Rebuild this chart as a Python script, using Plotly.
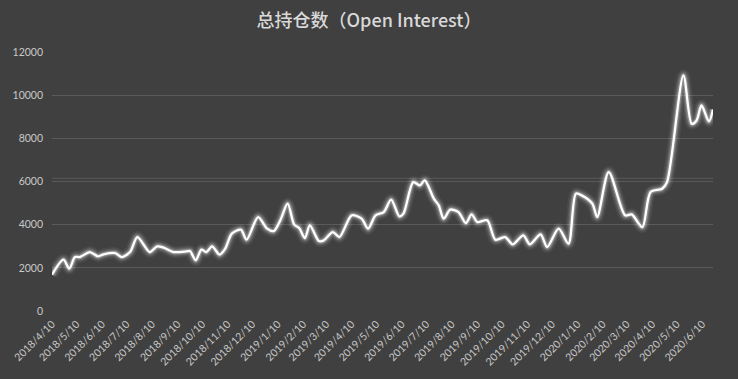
import plotly.graph_objects as go

dates = [
    "2018-04-10", "2018-04-24", "2018-05-01", "2018-05-08", "2018-05-14", "2018-05-26",
    "2018-06-05", "2018-06-12", "2018-06-26", "2018-07-04", "2018-07-14", "2018-07-23",
    "2018-08-07", "2018-08-16", "2018-08-24", "2018-09-05", "2018-09-21", "2018-09-25",
    "2018-10-02", "2018-10-09", "2018-10-15", "2018-10-22", "2018-10-31", "2018-11-07",
    "2018-11-15", "2018-11-26", "2018-12-03", "2018-12-17", "2018-12-28", "2019-01-05",
    "2019-01-13", "2019-01-22", "2019-01-30", "2019-02-05", "2019-02-12", "2019-02-18",
    "2019-03-01", "2019-03-07", "2019-03-18", "2019-03-26", "2019-04-10", "2019-04-22",
    "2019-04-30", "2019-05-09", "2019-05-19", "2019-05-28", "2019-06-07", "2019-06-12",
    "2019-06-24", "2019-07-02", "2019-07-08", "2019-07-19", "2019-07-25", "2019-07-31",
    "2019-08-08", "2019-08-18", "2019-08-27", "2019-09-03", "2019-09-10", "2019-09-22",
    "2019-10-02", "2019-10-14", "2019-10-23", "2019-11-05", "2019-11-13", "2019-11-26",
    "2019-12-04", "2019-12-18", "2019-12-30", "2020-01-08", "2020-01-15", "2020-01-28",
    "2020-02-03", "2020-02-17", "2020-03-08", "2020-03-16", "2020-03-29", "2020-04-08",
    "2020-04-22", "2020-04-28", "2020-05-18", "2020-05-28", "2020-06-03", "2020-06-09",
    "2020-06-18", "2020-06-23",
]
open_interest = [
    1685, 2380, 1963, 2500, 2500, 2732,
    2532, 2625, 2685, 2500, 2732, 3426,
    2732, 2996, 2935, 2732, 2764, 2780,
    2347, 2843, 2732, 2996, 2611, 2889,
    3584, 3769, 3306, 4352, 3815, 3704,
    4200, 4973, 4000, 3843, 3380, 3968,
    3241, 3273, 3658, 3426, 4431, 4278,
    3815, 4431, 4584, 5158, 4385, 4510,
    5973, 5820, 6052, 5204, 4894, 4278,
    4695, 4584, 4074, 4477, 4121, 4200,
    3306, 3426, 3088, 3505, 3088, 3551,
    2963, 3815, 3120, 5436, 5357, 4973,
    4352, 6436, 4431, 4477, 3889, 5510,
    5667, 5973, 10913, 8676, 8829, 9524,
    8783, 9339,
]

tick_dates = [
    "2018-04-10", "2018-05-10", "2018-06-10", "2018-07-10", "2018-08-10", "2018-09-10",
    "2018-10-10", "2018-11-10", "2018-12-10", "2019-01-10", "2019-02-10", "2019-03-10",
    "2019-04-10", "2019-05-10", "2019-06-10", "2019-07-10", "2019-08-10", "2019-09-10",
    "2019-10-10", "2019-11-10", "2019-12-10", "2020-01-10", "2020-02-10", "2020-03-10",
    "2020-04-10", "2020-05-10", "2020-06-10",
]
tick_labels = [
    "2018/4/10", "2018/5/10", "2018/6/10", "2018/7/10", "2018/8/10", "2018/9/10",
    "2018/10/10", "2018/11/10", "2018/12/10", "2019/1/10", "2019/2/10", "2019/3/10",
    "2019/4/10", "2019/5/10", "2019/6/10", "2019/7/10", "2019/8/10", "2019/9/10",
    "2019/10/10", "2019/11/10", "2019/12/10", "2020/1/10", "2020/2/10", "2020/3/10",
    "2020/4/10", "2020/5/10", "2020/6/10",
]
y_ticks = [0, 2000, 4000, 6000, 8000, 10000, 12000]
y_labels = ["0", "2000", "4000", "6000", "8000", "10000", "12000"]
extra_line_value = 6150

BG = "#404040"
GRID = "#5a5a5a"
TXT = "#c8c8c8"

fig = go.Figure()

# glow layers
for w, a in [(12, 0.05), (9, 0.08), (6.5, 0.13), (4.5, 0.22)]:
    fig.add_trace(go.Scatter(
        x=dates, y=open_interest, mode="lines",
        line=dict(color=f"rgba(255,255,255,{a})", width=w, shape="spline", smoothing=0.8),
        hoverinfo="skip", showlegend=False,
    ))
fig.add_trace(go.Scatter(
    x=dates, y=open_interest, mode="lines", name="总持仓数",
    line=dict(color="#ffffff", width=2.3, shape="spline", smoothing=0.8),
    showlegend=False,
))

fig.add_shape(type="line", xref="paper", x0=0, x1=1, yref="y",
              y0=extra_line_value, y1=extra_line_value,
              line=dict(color=GRID, width=1), layer="below")

fig.update_layout(
    width=738, height=379,
    paper_bgcolor=BG, plot_bgcolor=BG,
    margin=dict(l=52, r=25, t=52, b=68),
    title=dict(text="总持仓数（Open Interest）", x=0.5, xanchor="center",
               y=0.945, yanchor="middle",
               font=dict(family="Noto Sans CJK SC", size=18, color="#d9d9d9", weight=500)),
    font=dict(family="Lato", size=10, color=TXT),
    showlegend=False,
)
fig.update_xaxes(
    type="date", range=["2018-04-10", "2020-06-23"],
    tickvals=tick_dates, ticktext=tick_labels, tickangle=-45,
    showgrid=False, zeroline=False, showline=False, ticks="",
    ticklabelstandoff=4,
    tickfont=dict(family="Lato", size=10.5, color=TXT),
)
fig.update_yaxes(
    range=[0, 12000], tickvals=y_ticks, ticktext=y_labels,
    showgrid=True, gridcolor=GRID, gridwidth=1,
    zeroline=True, zerolinecolor=BG, zerolinewidth=2,
    showline=False, ticks="", ticklabelstandoff=8,
    tickfont=dict(family="Lato", size=10.5, color=TXT),
)

fig.write_html("out.html")
